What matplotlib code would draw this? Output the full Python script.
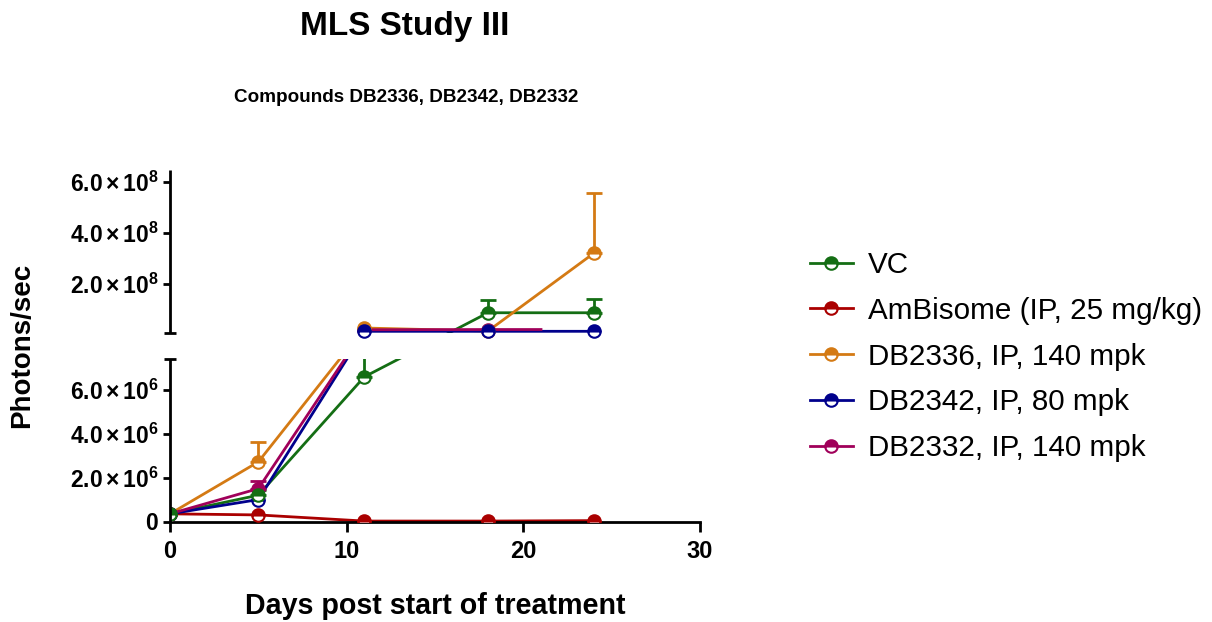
import numpy as np
import matplotlib
matplotlib.use("Agg")
import matplotlib.pyplot as plt
from matplotlib.legend_handler import HandlerTuple

plt.rcParams['font.family'] = ['Liberation Sans', 'DejaVu Sans']
plt.rcParams['mathtext.fontset'] = 'custom'
plt.rcParams['mathtext.rm'] = 'Liberation Sans'
plt.rcParams['mathtext.bf'] = 'Liberation Sans:bold'
plt.rcParams['mathtext.it'] = 'Liberation Sans:italic'

# ---------------- data ----------------
days = [0, 5, 11, 18, 24]
vc = [3.5e5, 1.2e6, 6.6e6, 8.6e7, 8.6e7]
vc_err = [0, 2.3e5, 8.5e5, 5.0e7, 5.3e7]
ambisome = [3.5e5, 3.0e5, 2e4, 2e4, 4e4]
ambisome_err = [0, 0, 0, 0, 0]
db2336 = [3.5e5, 2.72e6, 2.6e7, 1.4e7, 3.21e8]
db2336_err = [0, 9.2e5, 0, 0, 2.37e8]
db2342 = [3.5e5, 1.0e6, 1.3e7, 1.3e7, 1.3e7]
db2342_err = [0, 0, 0, 0, 0]
db2332_days = [0, 5, 11, 18, 21]
db2332 = [3.5e5, 1.5e6, 1.9e7, 2.0e7, 2.0e7]
db2332_err = [0, 3.5e5, 0, 0, 0]
db2332_marker_shown = [True, True, True, True, False]

labels = ["VC", "AmBisome (IP, 25 mg/kg)", "DB2336, IP, 140 mpk",
          "DB2342, IP, 80 mpk", "DB2332, IP, 140 mpk"]
colors = ["#146e14", "#aa0000", "#d47a14", "#00008c", "#a0005a"]

x_ticks = [0, 10, 20, 30]
y_ticks = [0, 2e6, 4e6, 6e6, 2e8, 4e8, 6e8]
y_tick_labels = [r"$\mathbf{0}$", r"$\mathbf{2.0\times10^{6}}$",
                 r"$\mathbf{4.0\times10^{6}}$", r"$\mathbf{6.0\times10^{6}}$",
                 r"$\mathbf{2.0\times10^{8}}$", r"$\mathbf{4.0\times10^{8}}$",
                 r"$\mathbf{6.0\times10^{8}}$"]

# broken axis: lower segment 0..L, upper segment U..T
L, U, T = 7.4e6, 7.5e6, 6.48e8
A_FR, G_FR, B_FR = 162.2 / 351.5, 26.6 / 351.5, 162.7 / 351.5


def forward(y):
    y = np.asarray(y, dtype=float)
    return np.where(y <= L, y / L * A_FR,
                    np.where(y <= U, A_FR + (y - L) / (U - L) * G_FR,
                             A_FR + G_FR + (y - U) / (T - U) * B_FR))


def inverse(s):
    s = np.asarray(s, dtype=float)
    return np.where(s <= A_FR, s / A_FR * L,
                    np.where(s <= A_FR + G_FR, L + (s - A_FR) / G_FR * (U - L),
                             U + (s - A_FR - G_FR) / B_FR * (T - U)))


fig = plt.figure(figsize=(12.12, 6.22), dpi=100)
ax = fig.add_axes([170 / 1212, 1 - 521.5 / 622, 530 / 1212, 351.5 / 622])
ax.set_yscale('function', functions=(forward, inverse))
ax.set_xlim(0, 30)
ax.set_ylim(0, T)

series = [
    (days, vc, vc_err, None),
    (days, ambisome, ambisome_err, None),
    (days, db2336, db2336_err, None),
    (days, db2342, db2342_err, None),
    (db2332_days, db2332, db2332_err, db2332_marker_shown),
]
marker_z = [4.5, 4.1, 4.3, 4.4, 4.2]

handles = []
for (xs, ys, es, shown), c, mz in zip(series, colors, marker_z):
    xs = np.asarray(xs, float)
    ys = np.asarray(ys, float)
    es = np.asarray(es, float)
    ln, = ax.plot(xs, ys, '-', color=c, lw=2.0, zorder=2)
    m = es > 0
    if m.any():
        ax.errorbar(xs[m], ys[m], yerr=[np.zeros(m.sum()), es[m]], fmt='none',
                    ecolor=c, elinewidth=2.0, capsize=6, capthick=2.0, zorder=2)
    mk = np.ones(len(xs), bool) if shown is None else np.asarray(shown, bool)
    mp, = ax.plot(xs[mk], ys[mk], ls='none', marker='o', ms=9, mew=1.5,
                  color=c, markeredgecolor=c, markerfacecolor=c,
                  markerfacecoloralt='white', fillstyle='top', zorder=mz)
    handles.append((ln, mp))

# hide the gap between the two segments
ax.axhspan(L, U, xmin=0, xmax=1, color='white', zorder=3, lw=0)

# axes styling
for s in ['top', 'right', 'left']:
    ax.spines[s].set_visible(False)
ax.spines['bottom'].set_linewidth(2.0)
ytr = ax.get_yaxis_transform()
ax.plot([0, 0], [0, L], color='k', lw=2.0, transform=ytr, clip_on=False,
        solid_capstyle='butt', zorder=5)
ax.plot([0, 0], [U, T], color='k', lw=2.0, transform=ytr, clip_on=False,
        solid_capstyle='butt', zorder=5)
ax.plot([0, 0], [L, U], ls='none', marker='_', ms=8, mew=2.0, color='k',
        transform=ytr, clip_on=False, zorder=5)

ax.set_xticks(x_ticks)
ax.set_xticklabels([str(t) for t in x_ticks], fontweight='bold', fontsize=17)
ax.set_yticks(y_ticks)
ax.set_yticklabels(y_tick_labels, fontsize=16.5)
ax.yaxis.set_minor_locator(matplotlib.ticker.NullLocator())
ax.tick_params(axis='y', direction='out', length=5, width=2.0, pad=3)
ax.tick_params(axis='x', direction='out', length=7, width=2.0, pad=6)

fig.text(405 / 1212, 1 - 27 / 622, "MLS Study III", ha='center', va='center',
         fontsize=24, fontweight='bold')
fig.text(406 / 1212, 1 - 97 / 622, "Compounds DB2336, DB2342, DB2332",
         ha='center', va='center', fontsize=13.6, fontweight='bold')
fig.text(22 / 1212, 1 - 345 / 622, "Photons/sec", rotation=90, ha='center',
         va='center', fontsize=20, fontweight='bold')
fig.text(435 / 1212, 1 - 606 / 622, "Days post start of treatment",
         ha='center', va='center', fontsize=20.6, fontweight='bold')

leg = ax.legend(handles, labels, loc='upper left',
                bbox_to_anchor=(810 / 1212, 1 - 251 / 622),
                bbox_transform=fig.transFigure, frameon=False, fontsize=21.3,
                handlelength=1.45, handletextpad=0.5, labelspacing=0.6,
                borderpad=0, borderaxespad=0,
                handler_map={tuple: HandlerTuple(ndivide=1, pad=0)})

fig.savefig("out.png", dpi=100)
